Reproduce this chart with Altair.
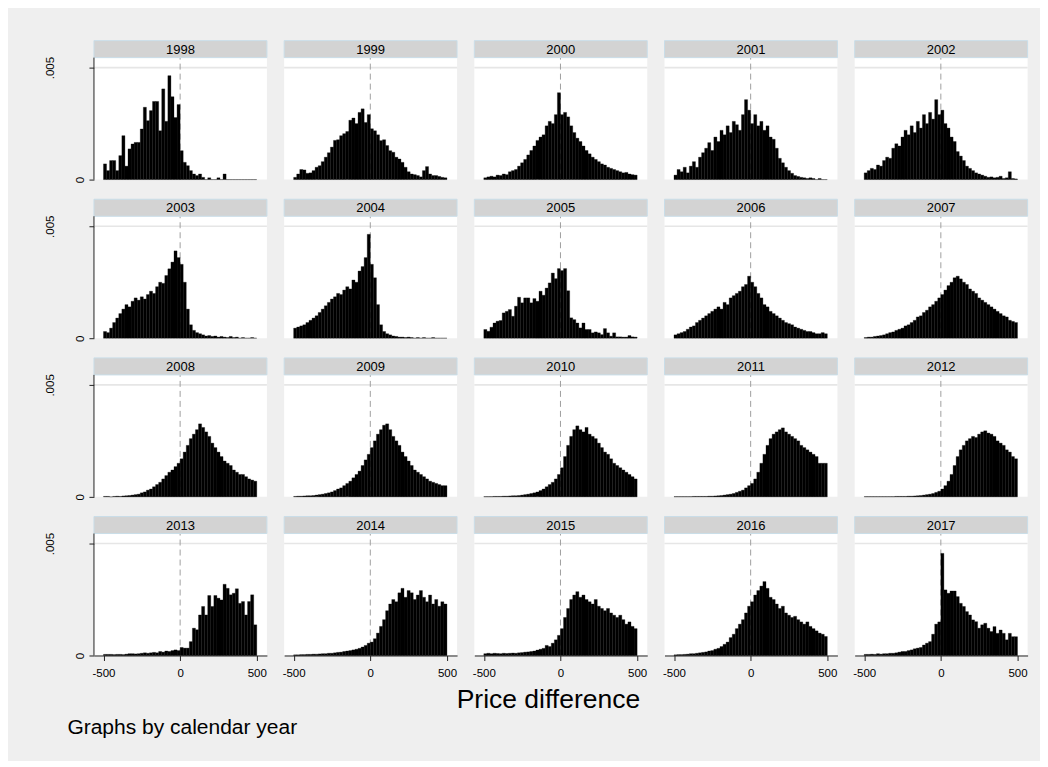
import altair as alt
import pandas as pd

# ---------------- data (density in units of 1e-5, 50 bins of width 20 from -500 to 500)
BIN_START = -500
BIN_WIDTH = 20
YEARS = list(range(1998, 2018))

d1998 = [70, 40, 85, 85, 40, 107, 196, 60, 137, 159, 166, 166, 226, 323, 263, 308, 349, 349, 218, 405, 260, 464, 370, 277, 335,
         129, 77, 62, 40, 25, 18, 25, 10, 0, 8, 0, 0, 8, 0, 25, 0, 0, 0, 0, 0, 0, 0, 0, 0, 0]
d1999 = [10, 25, 45, 43, 28, 30, 40, 55, 62, 80, 100, 120, 145, 175, 178, 196, 205, 215, 265, 275, 250, 300, 316, 255, 290,
         227, 218, 200, 174, 178, 152, 129, 122, 100, 92, 77, 55, 35, 25, 22, 18, 12, 40, 58, 25, 18, 18, 14, 10, 8]
d2000 = [8, 12, 15, 12, 20, 18, 25, 22, 35, 40, 45, 60, 75, 90, 110, 130, 150, 175, 190, 200, 240, 260, 250, 290, 388,
         290, 300, 280, 240, 210, 185, 170, 150, 130, 115, 100, 90, 80, 70, 65, 55, 50, 45, 40, 35, 30, 32, 25, 22, 20]
d2001 = [20, 45, 35, 55, 30, 60, 80, 55, 100, 120, 140, 165, 130, 190, 170, 220, 200, 240, 210, 260, 245, 220, 290, 357, 310,
         250, 290, 240, 260, 220, 240, 190, 180, 140, 95, 75, 55, 40, 28, 18, 14, 10, 8, 5, 8, 5, 0, 5, 0, 0]
d2002 = [30, 40, 50, 45, 65, 60, 85, 100, 95, 140, 160, 150, 190, 220, 200, 240, 210, 260, 230, 290, 250, 300, 270, 357, 290,
         310, 250, 230, 190, 170, 125, 105, 85, 60, 50, 40, 30, 25, 20, 15, 10, 12, 8, 10, 15, 5, 8, 35, 5, 3]
d2003 = [30, 25, 45, 70, 90, 110, 130, 150, 140, 165, 180, 170, 185, 175, 195, 210, 200, 230, 250, 245, 280, 310, 340, 390, 360,
         330, 250, 130, 60, 35, 25, 20, 15, 10, 12, 8, 10, 5, 8, 5, 3, 8, 3, 5, 0, 3, 0, 0, 3, 0]
d2004 = [45, 50, 55, 60, 70, 80, 90, 100, 115, 130, 145, 160, 175, 185, 200, 195, 215, 230, 220, 260, 250, 300, 320, 360, 464,
         330, 270, 150, 60, 30, 20, 15, 10, 8, 5, 5, 3, 5, 3, 0, 3, 0, 3, 0, 0, 3, 0, 0, 0, 0]
d2005 = [39, 31, 49, 68, 76, 79, 113, 120, 128, 98, 143, 183, 158, 180, 180, 158, 177, 165, 210, 192, 224, 247, 291, 266, 311,
         302, 311, 212, 91, 83, 68, 46, 68, 39, 39, 24, 28, 24, 16, 43, 24, 9, 24, 6, 6, 5, 5, 12, 6, 5]
d2006 = [15, 20, 25, 30, 40, 50, 55, 70, 80, 90, 100, 110, 120, 130, 140, 130, 160, 150, 180, 190, 200, 210, 230, 240, 277,
         250, 230, 200, 180, 150, 140, 120, 110, 100, 90, 80, 70, 65, 60, 50, 45, 40, 35, 30, 30, 25, 20, 20, 25, 20]
d2007 = [3, 5, 5, 8, 10, 12, 15, 20, 25, 28, 35, 40, 45, 55, 60, 70, 80, 95, 100, 115, 125, 140, 150, 165, 180,
         195, 215, 235, 250, 270, 277, 265, 250, 240, 220, 210, 200, 180, 170, 160, 150, 140, 130, 120, 110, 100, 95, 80, 75, 70]
d2008 = [2, 2, 0, 2, 3, 2, 4, 5, 6, 8, 10, 12, 18, 22, 30, 35, 45, 55, 65, 80, 95, 110, 120, 135, 150,
         170, 200, 230, 260, 280, 300, 326, 310, 290, 270, 240, 220, 200, 180, 160, 150, 140, 120, 110, 100, 100, 90, 80, 75, 70]
d2009 = [2, 3, 3, 4, 5, 5, 6, 8, 10, 12, 15, 18, 22, 28, 35, 40, 50, 60, 70, 85, 100, 115, 140, 165, 190,
         220, 250, 280, 300, 320, 326, 300, 270, 250, 230, 200, 180, 160, 140, 120, 110, 100, 90, 80, 70, 65, 60, 55, 50, 50]
d2010 = [1, 1, 1, 2, 2, 2, 3, 3, 4, 5, 5, 6, 8, 10, 12, 15, 18, 22, 28, 35, 45, 55, 65, 80, 100,
         130, 180, 230, 270, 300, 317, 300, 290, 310, 280, 270, 260, 240, 220, 200, 190, 170, 150, 140, 130, 120, 110, 100, 90, 80]
d2011 = [1, 1, 1, 1, 1, 1, 2, 2, 2, 2, 2, 3, 3, 4, 5, 6, 8, 10, 12, 15, 20, 25, 30, 40, 50,
         60, 80, 110, 150, 190, 230, 260, 280, 290, 300, 308, 290, 280, 270, 260, 250, 230, 220, 210, 200, 190, 180, 150, 150, 150]
d2012 = [1, 1, 1, 1, 1, 1, 1, 1, 1, 1, 2, 2, 2, 2, 3, 3, 4, 5, 6, 8, 10, 12, 15, 20, 25,
         35, 50, 70, 100, 140, 180, 210, 230, 250, 260, 270, 265, 280, 290, 295, 285, 280, 270, 250, 240, 230, 210, 200, 180, 170]
d2013 = [5, 5, 5, 4, 5, 5, 4, 6, 8, 8, 7, 8, 10, 12, 10, 12, 14, 12, 18, 15, 20, 18, 22, 25, 22,
         36, 33, 33, 62, 122, 115, 181, 219, 181, 268, 219, 268, 256, 248, 318, 300, 271, 278, 298, 233, 241, 181, 241, 271, 137]
d2014 = [3, 3, 4, 4, 5, 5, 6, 6, 7, 8, 8, 10, 10, 12, 14, 15, 18, 20, 22, 25, 28, 32, 38, 45, 55,
         60, 75, 100, 130, 160, 200, 230, 250, 240, 280, 300, 260, 290, 280, 250, 270, 290, 260, 240, 270, 230, 250, 220, 240, 230]
d2015 = [8, 10, 8, 10, 9, 8, 10, 9, 10, 11, 10, 12, 13, 15, 16, 18, 20, 24, 28, 32, 45, 40, 55, 70, 90,
         120, 170, 210, 250, 270, 285, 260, 270, 250, 240, 230, 250, 220, 210, 200, 210, 190, 180, 170, 180, 160, 140, 150, 130, 120]
d2016 = [3, 4, 4, 5, 6, 8, 8, 10, 12, 14, 16, 20, 22, 28, 32, 40, 50, 60, 80, 95, 120, 140, 160, 190, 220,
         240, 270, 290, 310, 330, 300, 260, 250, 230, 210, 220, 190, 180, 170, 175, 160, 150, 140, 150, 130, 120, 110, 100, 95, 85]
d2017 = [5, 5, 6, 5, 8, 6, 8, 8, 10, 10, 12, 15, 18, 18, 22, 25, 30, 33, 36, 47, 55, 62, 95, 140, 150,
         456, 293, 278, 288, 288, 263, 233, 219, 196, 181, 159, 151, 122, 137, 144, 122, 107, 129, 99, 114, 99, 70, 99, 84, 84]

SERIES = [d1998, d1999, d2000, d2001, d2002, d2003, d2004, d2005, d2006, d2007,
          d2008, d2009, d2010, d2011, d2012, d2013, d2014, d2015, d2016, d2017]

X_TICKS = [-500, 0, 500]
Y_TICKS = [0, 0.005]
X_TITLE = "Price difference"
NOTE = "Graphs by calendar year"

# ---------------- layout / style
FONT = "Liberation Sans, Arial, Helvetica, sans-serif"
PW, PH, HEAD = 173, 139, 17
PX_PER_005 = 112.0
YMAX = 0.005 * PH / PX_PER_005
YTOP = 0.005 * (PH - HEAD) / PX_PER_005
XDOM = [-562, 566]

xs = alt.Scale(domain=XDOM, nice=False, zero=False)
ys = alt.Scale(domain=[0, YMAX], nice=False, zero=True)


def x_axis():
    return alt.Axis(values=X_TICKS, labelExpr="'' + datum.value", tickSize=5, labelPadding=7,
                    labelFontSize=11.5, labelFont=FONT, labelColor="black", domainColor="#222",
                    tickColor="#222", grid=False, title=None, labelFlush=False)


def y_axis():
    return alt.Axis(values=Y_TICKS, labelExpr="datum.value == 0 ? '0' : '.005'", labelAngle=270,
                    labelAlign="center", labelBaseline="bottom",
                    labelPadding={"condition": {"test": "datum.value == 0", "value": 3.6}, "value": 33.6},
                    tickSize=5, domain=False, grid=False, title=None, labelFontSize=11.5,
                    labelFont=FONT, labelColor="black", tickColor="#222")


def panel(i, yr, vals):
    row, col = divmod(i, 5)
    df = pd.DataFrame({
        "b0": [BIN_START + k * BIN_WIDTH for k in range(len(vals))],
        "b1": [BIN_START + (k + 1) * BIN_WIDTH for k in range(len(vals))],
        "d": [v * 1e-5 for v in vals],
    })
    one = pd.DataFrame({"year": [str(yr)]})
    xa = x_axis() if row == 3 else None
    ya = y_axis() if col == 0 else None

    grid = alt.Chart(one).mark_rule(color="#E6E6E6", strokeWidth=1.6).encode(
        y=alt.YDatum(0.005, scale=ys, axis=ya))
    dash = alt.Chart(one).mark_rule(color="#A0A0A0", strokeWidth=1, strokeDash=[6, 4]).encode(
        x=alt.XDatum(0, scale=xs, axis=xa),
        y=alt.YDatum(0, scale=ys, axis=ya), y2=alt.Y2Datum(YTOP))
    bars = alt.Chart(df).mark_rect(color="black", stroke="black", strokeWidth=0.3).encode(
        x=alt.X("b0:Q", scale=xs, axis=xa), x2="b1:Q",
        y=alt.Y("d:Q", scale=ys, axis=ya), y2=alt.Y2Datum(0))
    header = alt.Chart(one).mark_rect(fill="#D3D3D3", stroke="#C9DDE8", strokeWidth=1).encode(
        x=alt.value(0), x2=alt.value(PW), y=alt.value(0), y2=alt.value(HEAD))
    htext = alt.Chart(one).mark_text(font=FONT, fontSize=13, color="black", align="center",
                                     baseline="middle").encode(
        text="year:N", x=alt.value(PW / 2), y=alt.value(HEAD / 2 + 0.5))
    layers = [grid, dash, bars, header, htext]
    if col == 0:
        layers.append(alt.Chart(one).mark_rule(color="#222", strokeWidth=1).encode(
            x=alt.value(0), y=alt.YDatum(0, scale=ys, axis=ya), y2=alt.Y2Datum(YTOP)))
    return alt.layer(*layers).properties(width=PW, height=PH)


panels = [panel(i, yr, vals) for i, (yr, vals) in enumerate(zip(YEARS, SERIES))]
grid_chart = alt.concat(*panels, columns=5, spacing={"row": 19.7, "column": 17.25},
                        bounds="flush").properties(
    title=alt.TitleParams(X_TITLE, orient="bottom", anchor="middle", frame="bounds", baseline="top",
                          fontSize=26.5, font=FONT, fontWeight="normal", color="black",
                          offset=8, dx=12))
chart = alt.vconcat(grid_chart).properties(
    title=alt.TitleParams(NOTE, orient="bottom", anchor="start", frame="bounds", baseline="top",
                          fontSize=21, font=FONT, fontWeight="normal", color="black",
                          offset=4, dx=23),
    background="#EFEFEF",
    padding={"left": 36, "top": 31.5, "right": 11.4, "bottom": 21},
).configure_view(fill="white", stroke=None)

chart.save("out.html", embed_options={"renderer": "svg", "actions": False})
